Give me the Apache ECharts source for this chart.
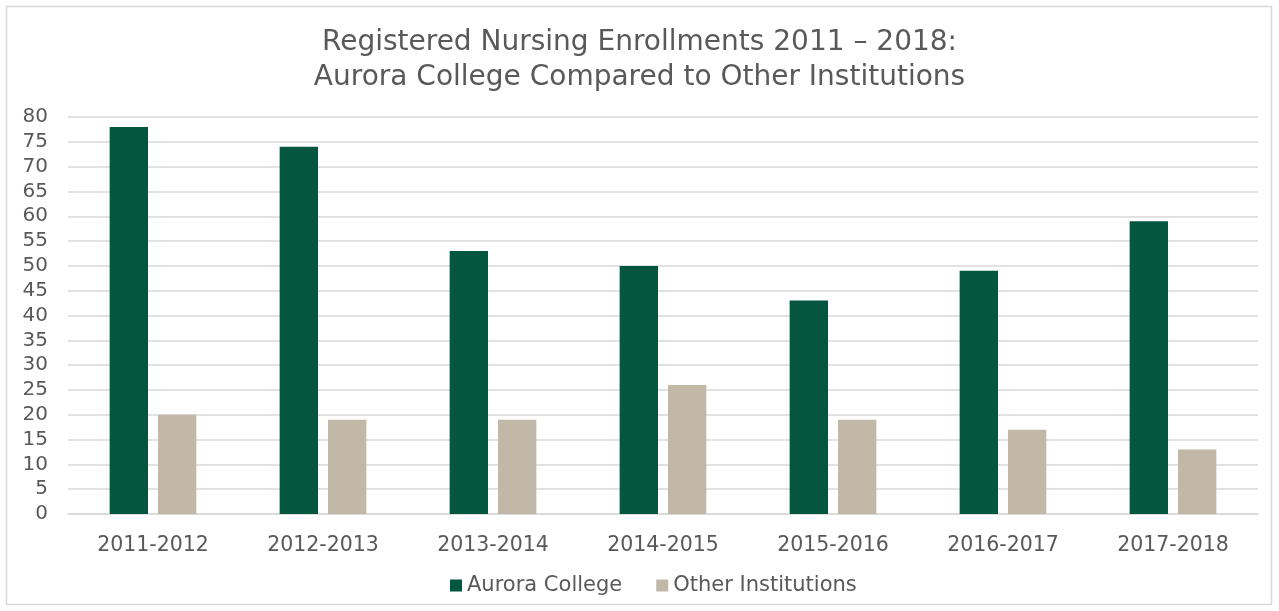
<!DOCTYPE html>
<html>
<head>
<meta charset="utf-8">
<script src="https://cdn.jsdelivr.net/npm/echarts@6/dist/echarts.min.js"></script>
<style>
  html, body { margin: 0; padding: 0; background: #fff; }
  #chart { width: 1279px; height: 611px; }
</style>
</head>
<body>
<div id="chart"></div>
<script>
let years = ['2011-2012', '2012-2013', '2013-2014', '2014-2015', '2015-2016', '2016-2017', '2017-2018'];
let aurora = [78, 74, 53, 50, 43, 49, 59];
let others = [20, 19, 19, 26, 19, 17, 13];

let chart = echarts.init(document.getElementById('chart'));
let txt = '#595959';
let fnt = '"DejaVu Sans", Arial, sans-serif';

let option = {
    animation: false,
    textStyle: { fontFamily: fnt },
    graphic: [{
        type: 'rect',
        shape: { x: 6.5, y: 6.5, width: 1265, height: 598 },
        style: { fill: 'none', stroke: '#d9d9d9', lineWidth: 1.5 },
        silent: true
    }],
    title: {
        text: 'Registered Nursing Enrollments 2011 \u2013 2018:\nAurora College Compared to Other Institutions',
        left: 'center',
        top: 20,
        textStyle: {
            color: txt,
            fontSize: 28,
            fontWeight: 'normal',
            lineHeight: 35,
            fontFamily: fnt
        }
    },
    legend: {
        bottom: 10,
        left: 445,
        itemWidth: 12,
        itemHeight: 12,
        itemGap: 34,
        icon: 'rect',
        textStyle: { color: txt, fontSize: 21, fontFamily: fnt },
        data: ['Aurora College', 'Other Institutions']
    },
    grid: {
        left: 68,
        right: 21,
        top: 117,
        bottom: 97
    },
    xAxis: {
        type: 'category',
        data: years,
        axisLine: { lineStyle: { color: '#d9d9d9', width: 1.5 } },
        axisTick: { show: false },
        axisLabel: { color: txt, fontSize: 20.5, margin: 21, fontFamily: fnt }
    },
    yAxis: {
        type: 'value',
        min: 0,
        max: 80,
        interval: 5,
        axisLine: { show: false },
        axisTick: { show: false },
        axisLabel: { color: txt, fontSize: 20, margin: 20, fontFamily: fnt },
        splitLine: { lineStyle: { color: '#d9d9d9', width: 1.5 } }
    },
    series: [
        {
            name: 'Aurora College',
            type: 'bar',
            data: aurora,
            barGap: '26%',
            barCategoryGap: '49%',
            itemStyle: { color: '#04563f' }
        },
        {
            name: 'Other Institutions',
            type: 'bar',
            data: others,
            itemStyle: { color: '#c2b8a7' }
        }
    ]
};
chart.setOption(option);
</script>
</body>
</html>
